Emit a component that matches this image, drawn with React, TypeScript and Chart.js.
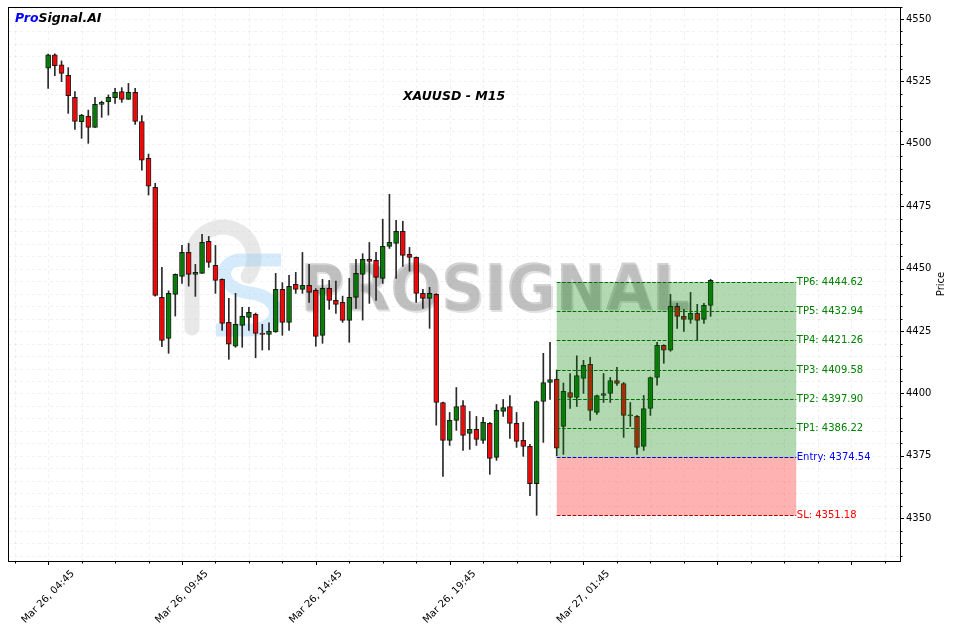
import { useEffect, useRef } from 'react';
import { Chart, registerables } from 'chart.js';

Chart.register(...registerables);

// ---- data ----
const opens = [
  4530.3, 4535.6, 4531.6, 4527.4, 4518.6, 4508.9, 4511.1, 4506.6, 4515.8, 4516.9,
  4518.5, 4520.9, 4517.8, 4520.6, 4508.9, 4494.2, 4482.6, 4438.5, 4422.1, 4439.7,
  4446.9, 4456.5, 4447.7, 4448.1, 4460.9, 4451.3, 4445.7, 4428.5, 4418.9, 4427.3,
  4430.5, 4431.7, 4424.1, 4423.7, 4424.7, 4441.7, 4428.5, 4443.7, 4441.7, 4443.3,
  4441.3, 4423.3, 4442.1, 4437.3, 4436.5, 4429.3, 4438.5, 4447.7, 4453.7, 4453.3,
  4446.1, 4458.9, 4460.1, 4464.9, 4455.7, 4454.5, 4440.1, 4438.1, 4439.7, 4396.4,
  4381.2, 4389.2, 4395.2, 4384.0, 4385.6, 4381.2, 4388.0, 4374.4, 4392.8, 4394.8,
  4388.0, 4381.2, 4378.8, 4363.9, 4396.8, 4404.4, 4405.8, 4386.8, 4400.4, 4398.4,
  4406.0, 4411.7, 4392.4, 4399.2, 4400.0, 4405.2, 4404.0, 4391.0, 4390.8, 4378.8,
  4394.0, 4406.4, 4419.3, 4417.3, 4434.9, 4430.9, 4429.7, 4432.1, 4429.7, 4435.3,
];
const highs = [
  4535.9, 4536.0, 4533.2, 4530.5, 4520.9, 4511.8, 4513.5, 4518.6, 4517.1, 4519.6,
  4522.2, 4522.5, 4524.2, 4522.2, 4511.3, 4495.9, 4484.2, 4450.5, 4441.1, 4447.9,
  4459.3, 4460.1, 4451.7, 4463.7, 4462.9, 4459.3, 4445.9, 4438.1, 4440.1, 4434.5,
  4434.5, 4432.2, 4427.7, 4428.3, 4448.1, 4444.4, 4447.3, 4448.5, 4456.5, 4451.7,
  4442.0, 4445.7, 4445.3, 4445.0, 4439.0, 4446.1, 4453.7, 4456.0, 4460.5, 4456.5,
  4469.8, 4479.8, 4469.4, 4469.0, 4458.5, 4454.7, 4441.7, 4442.5, 4440.0, 4396.6,
  4392.4, 4402.4, 4397.2, 4392.8, 4390.8, 4390.4, 4388.4, 4395.6, 4397.6, 4399.2,
  4392.4, 4388.4, 4379.6, 4397.0, 4416.1, 4420.5, 4409.4, 4404.2, 4408.0, 4415.1,
  4413.3, 4414.5, 4399.4, 4408.0, 4406.4, 4410.5, 4404.4, 4396.4, 4391.2, 4399.2,
  4406.6, 4420.5, 4419.5, 4439.7, 4436.1, 4433.7, 4440.5, 4435.7, 4436.1, 4445.7,
];
const lows = [
  4522.2, 4527.3, 4524.9, 4512.2, 4505.8, 4502.2, 4500.2, 4506.6, 4510.6, 4511.5,
  4516.2, 4516.6, 4517.8, 4507.8, 4489.4, 4479.5, 4439.0, 4418.7, 4416.1, 4431.0,
  4444.1, 4443.0, 4438.9, 4448.1, 4450.5, 4440.1, 4425.3, 4413.7, 4418.5, 4418.5,
  4425.3, 4414.3, 4417.4, 4417.4, 4424.5, 4423.3, 4425.3, 4440.1, 4440.1, 4436.5,
  4418.9, 4420.1, 4433.7, 4432.1, 4428.5, 4420.5, 4434.1, 4429.4, 4436.1, 4437.3,
  4444.1, 4458.1, 4446.1, 4450.9, 4449.0, 4436.5, 4434.1, 4426.1, 4387.3, 4366.8,
  4379.2, 4385.2, 4377.2, 4377.6, 4379.2, 4380.0, 4367.6, 4373.2, 4390.8, 4382.0,
  4378.4, 4374.8, 4359.1, 4351.2, 4380.4, 4397.6, 4375.0, 4375.6, 4394.0, 4394.8,
  4400.0, 4389.2, 4391.6, 4396.4, 4396.4, 4403.2, 4382.4, 4386.8, 4375.6, 4377.2,
  4391.2, 4403.3, 4412.1, 4416.9, 4426.1, 4424.9, 4428.1, 4421.3, 4428.1, 4430.9,
];
const closes = [
  4535.6, 4531.3, 4528.2, 4519.3, 4509.0, 4511.5, 4506.6, 4515.8, 4516.6, 4518.6,
  4520.6, 4517.8, 4520.6, 4509.0, 4493.4, 4483.0, 4439.3, 4421.3, 4440.1, 4447.7,
  4456.5, 4447.7, 4448.5, 4460.5, 4452.5, 4445.3, 4428.1, 4419.7, 4427.7, 4430.9,
  4432.5, 4424.1, 4423.7, 4425.0, 4441.7, 4428.5, 4442.9, 4441.7, 4443.3, 4440.5,
  4422.9, 4442.1, 4437.3, 4435.7, 4429.3, 4438.5, 4448.1, 4453.7, 4452.9, 4446.5,
  4458.9, 4460.5, 4464.9, 4455.3, 4454.5, 4440.1, 4438.1, 4440.1, 4396.4, 4381.2,
  4389.2, 4394.8, 4383.2, 4385.6, 4381.6, 4388.4, 4374.0, 4393.2, 4394.4, 4388.0,
  4380.8, 4378.8, 4363.9, 4396.8, 4404.4, 4405.6, 4378.1, 4400.9, 4398.4, 4407.2,
  4411.3, 4393.2, 4399.2, 4400.0, 4405.2, 4404.0, 4391.2, 4391.4, 4378.4, 4394.0,
  4406.4, 4419.3, 4417.3, 4434.9, 4430.9, 4429.7, 4432.1, 4429.3, 4435.3, 4445.3,
];

const tickIndices = [0, 20, 40, 60, 80];
const tickLabels = ['Mar 26, 04:45', 'Mar 26, 09:45', 'Mar 26, 14:45', 'Mar 26, 19:45', 'Mar 27, 01:45'];

const levelNames = ['TP6', 'TP5', 'TP4', 'TP3', 'TP2', 'TP1', 'Entry', 'SL'];
const levelValues = [4444.62, 4432.94, 4421.26, 4409.58, 4397.9, 4386.22, 4374.54, 4351.18];
const levelColors = ['#008000', '#008000', '#008000', '#008000', '#008000', '#008000', '#0000ff', '#ff0000'];
const zoneStartIndex = 76;
const zoneEndIndex = 111.8;

const chartTitle = 'XAUUSD - M15';
const yTitle = 'Price';
const brandA = 'Pro';
const brandB = 'Signal.AI';
const watermark = 'PROSIGNAL';

const FONT = '"DejaVu Sans", Verdana, sans-serif';

const overlayPlugin = {
  id: 'overlay',
  beforeDatasetsDraw(chart: any) {
    const { ctx, chartArea: a, scales } = chart;
    const x = scales.x;
    const y = scales.y;
    ctx.save();
    ctx.beginPath();
    ctx.rect(a.left, a.top, a.right - a.left, a.bottom - a.top);
    ctx.clip();
    // grid
    ctx.strokeStyle = 'rgba(0,0,0,0.055)';
    ctx.lineWidth = 1;
    ctx.setLineDash([3, 3]);
    for (let v = 4335; v <= 4555; v += 5) {
      const py = Math.round(y.getPixelForValue(v)) + 0.5;
      ctx.beginPath();
      ctx.moveTo(a.left, py);
      ctx.lineTo(a.right, py);
      ctx.stroke();
    }
    for (let i = -5; i <= 125; i += 5) {
      const px = Math.round(x.getPixelForValue(i)) + 0.5;
      ctx.beginPath();
      ctx.moveTo(px, a.top);
      ctx.lineTo(px, a.bottom);
      ctx.stroke();
    }
    ctx.setLineDash([]);

    // logo (watermark)
    ctx.lineCap = 'round';
    ctx.strokeStyle = 'rgba(210,210,210,0.5)';
    ctx.lineWidth = 15;
    ctx.beginPath();
    ctx.moveTo(192, 328);
    ctx.lineTo(192, 258);
    ctx.arc(223, 258, 31, Math.PI, Math.PI * 2.2, false);
    ctx.stroke();
    ctx.strokeStyle = 'rgba(150,205,245,0.4)';
    ctx.lineWidth = 13;
    ctx.lineCap = 'butt';
    ctx.beginPath();
    ctx.moveTo(281, 260);
    ctx.lineTo(240, 260);
    ctx.bezierCurveTo(216, 262, 220, 290, 250, 293);
    ctx.bezierCurveTo(286, 297, 282, 330, 250, 330);
    ctx.lineTo(216, 330);
    ctx.stroke();

    // watermark text
    ctx.font = `bold 64px ${FONT}`;
    const w = ctx.measureText(watermark).width;
    ctx.save();
    ctx.translate(300, 310);
    ctx.scale(390 / w, 1);
    ctx.textBaseline = 'alphabetic';
    ctx.textAlign = 'left';
    ctx.fillStyle = 'rgba(90,90,90,0.18)';
    ctx.fillText(watermark, 2, 2);
    ctx.fillStyle = 'rgba(130,130,130,0.36)';
    ctx.fillText(watermark, 0, 0);
    ctx.restore();
    ctx.restore();
  },
  afterDatasetsDraw(chart: any) {
    const { ctx, chartArea: a, scales } = chart;
    const x = scales.x;
    const y = scales.y;
    ctx.save();
    const x0 = x.getPixelForValue(zoneStartIndex);
    const x1 = x.getPixelForValue(zoneEndIndex);
    const entry = levelValues[6];
    const sl = levelValues[7];
    const tpTop = levelValues[0];
    // zones
    ctx.fillStyle = 'rgba(0,128,0,0.3)';
    ctx.fillRect(x0, y.getPixelForValue(tpTop), x1 - x0, y.getPixelForValue(entry) - y.getPixelForValue(tpTop));
    ctx.fillStyle = 'rgba(255,0,0,0.3)';
    ctx.fillRect(x0, y.getPixelForValue(entry), x1 - x0, y.getPixelForValue(sl) - y.getPixelForValue(entry));
    // level lines & labels
    ctx.font = `10px ${FONT}`;
    ctx.textBaseline = 'middle';
    ctx.textAlign = 'left';
    levelValues.forEach((v, k) => {
      const py = Math.round(y.getPixelForValue(v)) + 0.5;
      ctx.strokeStyle = k === 7 ? '#b00000' : k === 6 ? '#0000cc' : '#007000';
      ctx.lineWidth = 1;
      ctx.setLineDash([3.7, 1.6]);
      ctx.beginPath();
      ctx.moveTo(x0, py);
      ctx.lineTo(x1, py);
      ctx.stroke();
      ctx.setLineDash([]);
      ctx.fillStyle = levelColors[k];
      ctx.fillText(`${levelNames[k]}: ${v.toFixed(2)}`, x1 + 0.5, py);
    });

    // frame
    ctx.strokeStyle = '#000';
    ctx.lineWidth = 1;
    ctx.strokeRect(Math.round(a.left) + 0.5, Math.round(a.top) + 0.5, Math.round(a.right - a.left), Math.round(a.bottom - a.top));

    // y ticks
    for (let v = 4335; v <= 4555; v += 5) {
      const py = Math.round(y.getPixelForValue(v)) + 0.5;
      if (py < a.top || py > a.bottom) continue;
      const len = v % 25 === 0 ? 4 : 2.5;
      ctx.beginPath();
      ctx.moveTo(a.right, py);
      ctx.lineTo(a.right + len, py);
      ctx.stroke();
    }
    // x ticks
    for (let i = -5; i <= 125; i += 5) {
      const px = Math.round(x.getPixelForValue(i)) + 0.5;
      const len = i % 20 === 0 ? 4 : 2.5;
      ctx.beginPath();
      ctx.moveTo(px, a.bottom);
      ctx.lineTo(px, a.bottom + len);
      ctx.stroke();
    }
    // x labels (rotated 45, centered on tick)
    ctx.fillStyle = '#000';
    ctx.font = `10px ${FONT}`;
    tickIndices.forEach((ti, k) => {
      const px = x.getPixelForValue(ti);
      const tw = ctx.measureText(tickLabels[k]).width;
      const bb = (tw + 12) * Math.SQRT1_2;
      ctx.save();
      ctx.translate(px, a.bottom + 7 + bb / 2);
      ctx.rotate(-Math.PI / 4);
      ctx.textAlign = 'center';
      ctx.textBaseline = 'middle';
      ctx.fillText(tickLabels[k], 0, 0);
      ctx.restore();
    });
    // y title
    ctx.save();
    ctx.translate(941, (a.top + a.bottom) / 2);
    ctx.rotate(-Math.PI / 2);
    ctx.textAlign = 'center';
    ctx.textBaseline = 'middle';
    ctx.fillText(yTitle, 0, 0);
    ctx.restore();

    // title
    ctx.font = `bold italic 12.5px ${FONT}`;
    ctx.textAlign = 'center';
    ctx.textBaseline = 'middle';
    ctx.fillStyle = '#000';
    ctx.fillText(chartTitle, (a.left + a.right) / 2, 97);
    // brand
    ctx.textAlign = 'left';
    ctx.fillStyle = '#0000ff';
    ctx.fillText(brandA, 15, 19);
    const wa = ctx.measureText(brandA).width;
    ctx.fillStyle = '#000';
    ctx.fillText(brandB, 15 + wa, 19);
    ctx.restore();
  },
};

export default function App() {
  const ref = useRef<HTMLCanvasElement>(null);
  useEffect(() => {
    document.body.style.margin = '0';
    const idx = opens.map((_, i) => i);
    const up = idx.map((i) => closes[i] >= opens[i]);
    Chart.defaults.font.family = FONT;
    const chart = new Chart(ref.current as HTMLCanvasElement, {
      type: 'bar',
      data: {
        datasets: [
          {
            label: 'body',
            data: idx.map((i) => ({ x: i, y: [opens[i], closes[i]] })) as any,
            backgroundColor: up.map((u) => (u ? 'rgba(0,128,0,0.9)' : 'rgba(255,0,0,0.9)')),
            borderColor: 'rgba(0,0,0,0.85)',
            borderWidth: 1,
            borderSkipped: false,
            barThickness: 5,
            grouped: false,
          } as any,
          {
            label: 'wick',
            data: idx.map((i) => ({ x: i, y: [lows[i], highs[i]] })) as any,
            backgroundColor: '#2a2a2a',
            borderWidth: 0,
            barThickness: 1,
            grouped: false,
          } as any,
        ],
      },
      options: {
        responsive: false,
        animation: false,
        layout: { padding: { left: 8, top: 7, right: 0, bottom: 0 } },
        plugins: { legend: { display: false }, tooltip: { enabled: false } },
        scales: {
          x: {
            type: 'linear',
            min: -6,
            max: 127.3,
            offset: false,
            grid: { display: false },
            border: { display: false },
            ticks: { display: false },
            afterFit: (s: any) => {
              s.height = 71;
              s.paddingLeft = 0;
              s.paddingRight = 0;
              s.paddingTop = 0;
              s.paddingBottom = 0;
            },
          },
          y: {
            type: 'linear',
            position: 'right',
            min: 4332.9,
            max: 4554.8,
            grid: { display: false, drawTicks: false },
            border: { display: false },
            ticks: {
              stepSize: 25,
              autoSkip: false,
              padding: 6,
              color: '#000',
              font: { size: 10, family: FONT },
              callback: (v: any) => (Number(v) % 25 === 0 ? String(v) : ''),
            },
            afterFit: (s: any) => {
              s.width = 53;
              s.paddingTop = 0;
              s.paddingBottom = 0;
              s.paddingLeft = 0;
              s.paddingRight = 0;
            },
          },
        } as any,
      },
      plugins: [overlayPlugin],
    });
    return () => chart.destroy();
  }, []);
  return (
    <div style={{ width: 953, height: 632 }}>
      <canvas ref={ref} width={953} height={632} />
    </div>
  );
}
